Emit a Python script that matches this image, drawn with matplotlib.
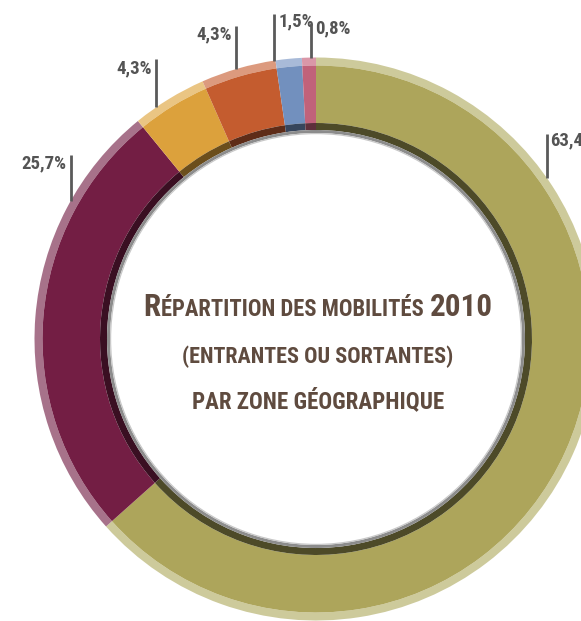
import matplotlib
matplotlib.use("Agg")
import matplotlib.pyplot as plt
from matplotlib.patches import Wedge
import numpy as np

# ---- data ----
zones = ["Zone 1", "Zone 2", "Zone 3", "Zone 4", "Zone 5", "Zone 6"]
shares = [63.4, 25.7, 4.3, 4.3, 1.5, 0.8]
labels = ["63,4%", "25,7%", "4,3%", "4,3%", "1,5%", "0,8%"]
title_lines = [
    [("R", "big"), ("ÉPARTITION DES MOBILITÉS", "small"), ("2010", "big")],
    [("(ENTRANTES OU SORTANTES)", "small")],
    [("PAR ZONE GÉOGRAPHIQUE", "small")],
]

# ---- style ----
main_colors = ["#ADA55B", "#731E44", "#DCA13C", "#C45C2F", "#7290BE", "#C1627A"]
rim_colors = ["#CDCA9B", "#A7728A", "#EAC583", "#DC9A7E", "#A8BAD8", "#DA97A8"]
dark_colors = ["#4D4A28", "#3A0F22", "#6B4E1C", "#5E2C18", "#36455C", "#5E2F3B"]
leader_angle = [55.0, -60.6, -34.6, -16.6, -8.5, -1.0]
leader_len = [44, 46, 48, 43, 47, 35]
text_side = [1, -1, -1, -1, 1, 1]
text_dy = [7, 9, 9, 8, 8, 6]
LABEL_FONT = ["Roboto Condensed", "DejaVu Sans"]
TITLE_FONT = ["Roboto Condensed", "DejaVu Sans"]

W, H = 581, 621
fig = plt.figure(figsize=(W / 100, H / 100), dpi=100)
ax = fig.add_axes([0, 0, 1, 1])
cx, cy = 316, H - 339
R = 281.5
rim_w = 8
r_main_in = 216
r_dark_in = 209
r_gray_in = 206

common = dict(startangle=90, counterclock=False, center=(cx, cy))
ax.pie(shares, radius=R, colors=rim_colors,
       wedgeprops=dict(width=rim_w, linewidth=0), **common)
ax.pie(shares, radius=R - rim_w, colors=main_colors,
       wedgeprops=dict(width=R - rim_w - r_main_in, linewidth=0), **common)
ax.pie(shares, radius=r_main_in, colors=dark_colors,
       wedgeprops=dict(width=r_main_in - r_dark_in, linewidth=0), **common)
ax.add_patch(Wedge((cx, cy), r_dark_in, 0, 360, width=r_dark_in - r_gray_in,
                   facecolor="#8C8C8C", linewidth=0))
ax.add_patch(Wedge((cx, cy), r_gray_in, 0, 360, width=1.2,
                   facecolor="#C8C8C8", linewidth=0))

label_font = dict(family=LABEL_FONT, fontweight="bold", fontsize=13.5, color="#545454")
for lab, ang, L, side, dy in zip(labels, leader_angle, leader_len, text_side, text_dy):
    t = np.deg2rad(ang)
    x0 = cx + R * np.sin(t)
    y0 = cy + R * np.cos(t)
    ax.plot([x0, x0], [y0, y0 + L], color="#5A5A5A", lw=2.0,
            solid_capstyle="butt", zorder=5)
    ax.text(x0 + side * 4, y0 + L - dy, lab,
            ha="left" if side > 0 else "right", va="center", **label_font)

ax.set_xlim(0, W)
ax.set_ylim(0, H)
ax.set_aspect("equal")
ax.axis("off")

# ---- title with small caps ----
sizes = {"big": 18.5, "small": 13.5}
title_color = "#5F4B3F"
baselines = [H - 316, H - 363, H - 408]
target_w = [353, 273, 253]
title_cx = 318
renderer = fig.canvas.get_renderer()
gap = 6
for pieces, yb, tw in zip(title_lines, baselines, target_w):
    texts = []
    for s, kind in pieces:
        tt = ax.text(0, yb, s, fontsize=sizes[kind], fontweight="bold",
                     family=TITLE_FONT, color=title_color, ha="left", va="baseline")
        texts.append(tt)
    gaps = [0 if (i == 0 and pieces[0][1] == "big") else gap for i in range(len(pieces) - 1)]
    widths = [tt.get_window_extent(renderer).width for tt in texts]
    total = sum(widths) + sum(gaps)
    scale = float(np.clip(tw / total, 0.85, 1.3))
    for tt, (s, kind) in zip(texts, pieces):
        tt.set_fontsize(sizes[kind] * scale)
    widths = [tt.get_window_extent(renderer).width for tt in texts]
    total = sum(widths) + sum(gaps)
    x = title_cx - total / 2
    for i, tt in enumerate(texts):
        tt.set_x(x)
        x += widths[i] + (gaps[i] if i < len(gaps) else 0)

fig.savefig("out.png", dpi=100)
